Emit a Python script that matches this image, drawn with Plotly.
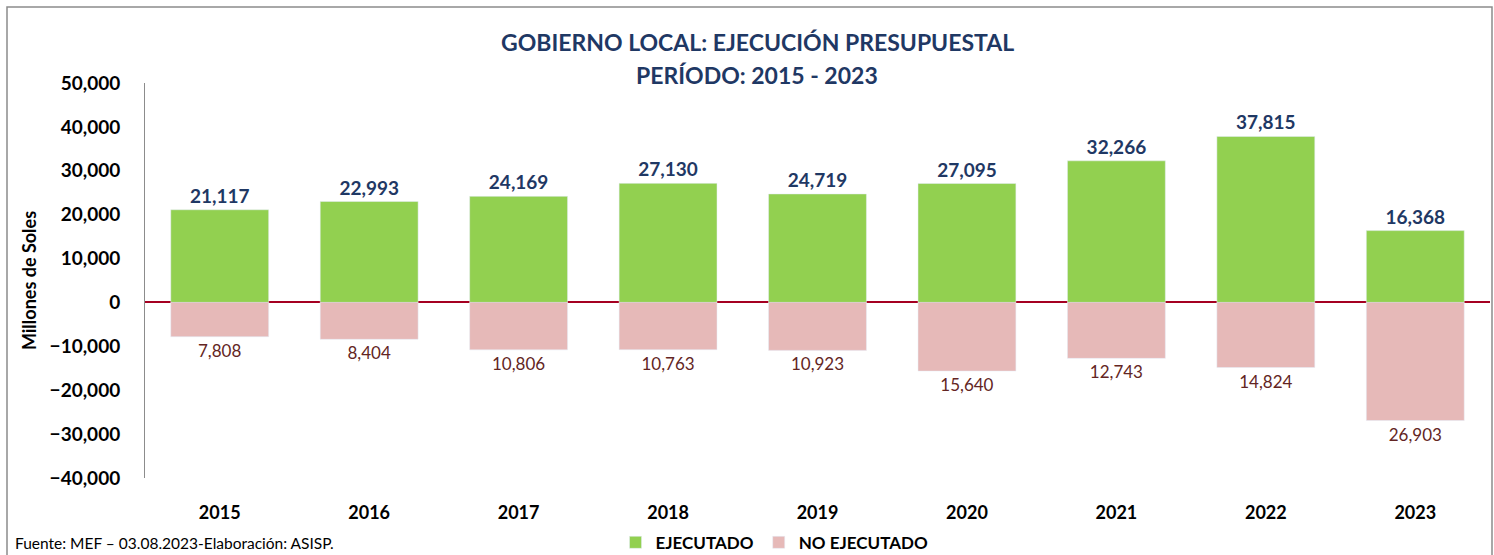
import plotly.graph_objects as go

years = ["2015", "2016", "2017", "2018", "2019", "2020", "2021", "2022", "2023"]
ejecutado = [21117, 22993, 24169, 27130, 24719, 27095, 32266, 37815, 16368]
no_ejecutado = [7808, 8404, 10806, 10763, 10923, 15640, 12743, 14824, 26903]

font_fam = "Lato, 'Open Sans', sans-serif"

# pixel -> paper helpers (plot area: x 145..1490, y 83..478)
def px(x):
    return (x - 145) / 1345

def py(y):
    return (478 - y) / 395

fig = go.Figure()
fig.add_trace(go.Bar(
    x=years, y=ejecutado, name="EJECUTADO",
    marker_color="#92D050",
    text=[f"{v:,}" for v in ejecutado], textposition="outside",
    textfont=dict(color="#1F3864", size=19, family=font_fam, weight="bold"),
    cliponaxis=False,
))
fig.add_trace(go.Bar(
    x=years, y=[-v for v in no_ejecutado], name="NO EJECUTADO",
    marker_color="#E6B9B8",
    text=[f"{v:,}" for v in no_ejecutado], textposition="outside",
    textfont=dict(color="#632523", size=17, family=font_fam),
    cliponaxis=False,
))

fig.update_layout(
    barmode="relative",
    bargap=0.345,
    width=1494, height=555,
    margin=dict(l=145, r=4, t=83, b=77, autoexpand=False),
    plot_bgcolor="white", paper_bgcolor="white",
    font=dict(family=font_fam, color="black"),
    showlegend=True,
    legend=dict(orientation="h", xref="container", yref="container",
                x=0.412, y=0.022, xanchor="left", yanchor="middle",
                font=dict(size=17, weight="bold", color="black"),
                itemwidth=30, traceorder="normal", tracegroupgap=0),
)
fig.update_xaxes(showline=False, ticks="", tickfont=dict(size=18, weight="bold"),
                 ticklabelstandoff=22, automargin=False)
fig.update_yaxes(range=[-40000, 50000], dtick=10000, tickformat=",",
                 showgrid=False, zeroline=True, zerolinecolor="#A50021", zerolinewidth=2,
                 showline=True, linecolor="#8C8C8C", linewidth=1, automargin=False,
                 tickfont=dict(size=19, weight="bold"), ticklabelstandoff=20,
                 title=dict(text="Millones de Soles", font=dict(size=18, weight="bold"), standoff=8))

fig.add_annotation(text="GOBIERNO LOCAL: EJECUCIÓN PRESUPUESTAL",
                   xref="paper", yref="paper", x=px(757), y=py(42),
                   xanchor="center", yanchor="middle",
                   showarrow=False, font=dict(size=23, color="#1F3864", weight="bold"))
fig.add_annotation(text="PERÍODO: 2015 - 2023",
                   xref="paper", yref="paper", x=px(757), y=py(75),
                   xanchor="center", yanchor="middle",
                   showarrow=False, font=dict(size=23, color="#1F3864", weight="bold"))
fig.add_annotation(text="Fuente: MEF – 03.08.2023-Elaboración: ASISP.",
                   xref="paper", yref="paper", x=px(13), y=py(543),
                   xanchor="left", yanchor="middle",
                   showarrow=False, font=dict(size=15.5, color="black"))
fig.add_shape(type="rect", xref="paper", yref="paper", x0=px(7), x1=px(1492), y0=py(600), y1=py(7),
              line=dict(color="#8C8C8C", width=1.5), layer="below")

fig.write_html("out.html", config={"displayModeBar": False},
               post_script="document.body.style.margin='0';")
